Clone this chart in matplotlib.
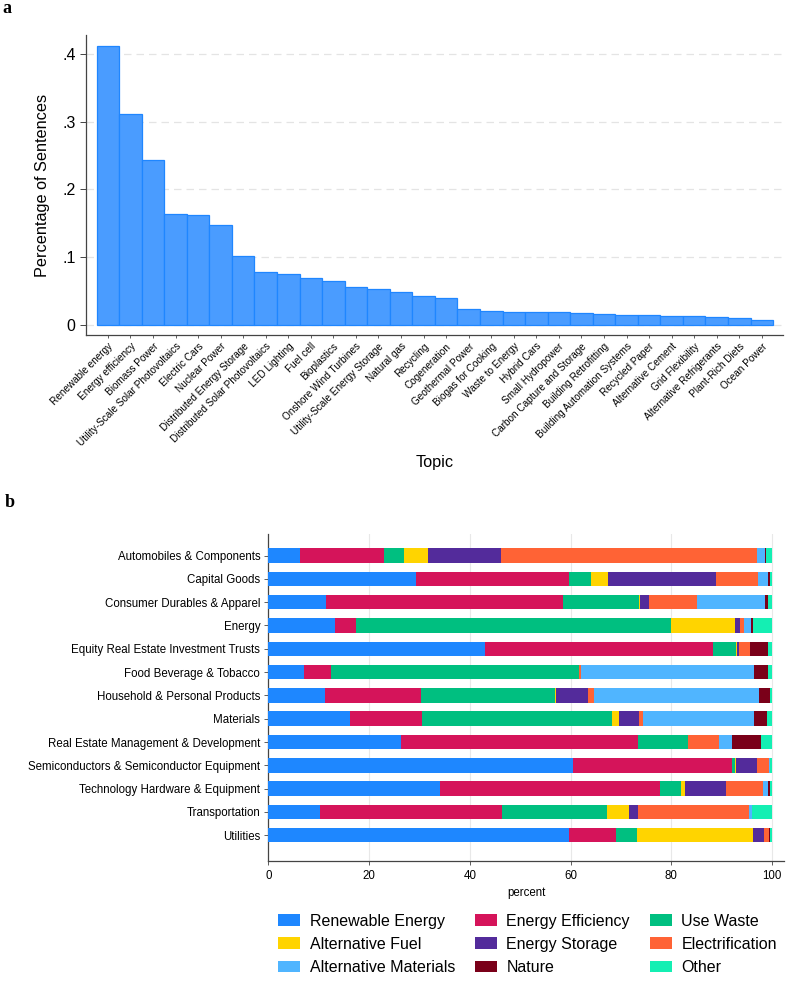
import matplotlib
matplotlib.use('Agg')
import matplotlib.pyplot as plt
from matplotlib.patches import Patch

plt.rcParams['font.family'] = ['Liberation Sans', 'DejaVu Sans']

# ---------------- Panel a data ----------------
topics = ["Renewable energy", "Energy efficiency", "Biomass Power",
          "Utility-Scale Solar Photovoltaics", "Electric Cars", "Nuclear Power",
          "Distributed Energy Storage", "Distributed Solar Photovoltaics",
          "LED Lighting", "Fuel cell", "Bioplastics", "Onshore Wind Turbines",
          "Utility-Scale Energy Storage", "Natural gas", "Recycling",
          "Cogeneration", "Geothermal Power", "Biogas for Cooking",
          "Waste to Energy", "Hybrid Cars", "Small Hydropower",
          "Carbon Capture and Storage", "Building Retrofitting",
          "Building Automation Systems", "Recycled Paper", "Alternative Cement",
          "Grid Flexibility", "Alternative Refrigerants", "Plant-Rich Diets",
          "Ocean Power"]
shares = [0.412, 0.311, 0.2435, 0.164, 0.162, 0.148, 0.102, 0.0778, 0.0757,
          0.0698, 0.065, 0.0566, 0.0527, 0.049, 0.0424, 0.0394, 0.0232, 0.0207,
          0.0192, 0.0187, 0.0187, 0.0177, 0.0162, 0.0152, 0.0148, 0.0137,
          0.0137, 0.0113, 0.0099, 0.0069]
ytick_vals = [0, 0.1, 0.2, 0.3, 0.4]
ytick_labels = ["0", ".1", ".2", ".3", ".4"]

# ---------------- Panel b data ----------------
sectors = ["Automobiles & Components", "Capital Goods",
           "Consumer Durables & Apparel", "Energy",
           "Equity Real Estate Investment Trusts", "Food Beverage & Tobacco",
           "Household & Personal Products", "Materials",
           "Real Estate Management & Development",
           "Semiconductors & Semiconductor Equipment",
           "Technology Hardware & Equipment", "Transportation", "Utilities"]
categories = ["Renewable Energy", "Energy Efficiency", "Use Waste",
              "Alternative Fuel", "Energy Storage", "Electrification",
              "Alternative Materials", "Nature", "Other"]
renewable_energy = [6.3, 29.3, 11.4, 13.2, 43.0, 7.0, 11.2, 16.2, 26.3, 60.5, 34.1, 10.2, 59.7]
energy_efficiency = [16.6, 30.4, 47.1, 4.2, 45.3, 5.5, 19.0, 14.2, 47.1, 31.5, 43.6, 36.1, 9.3]
use_waste = [4.0, 4.4, 15.1, 62.5, 4.5, 49.1, 26.8, 37.9, 10.0, 0.6, 4.3, 20.9, 4.2]
alternative_fuel = [4.8, 3.4, 0.1, 12.7, 0.2, 0.0, 0.1, 1.4, 0.0, 0.3, 0.7, 4.5, 23.0]
energy_storage = [14.5, 21.3, 1.9, 1.0, 0.4, 0.1, 6.4, 3.9, 0.0, 4.1, 8.2, 1.7, 2.3]
electrification = [50.9, 8.5, 9.6, 0.8, 2.2, 0.3, 1.2, 0.8, 6.0, 2.5, 7.3, 22.0, 0.9]
alternative_materials = [1.5, 2.0, 13.5, 1.4, 0.1, 34.5, 32.8, 22.0, 2.7, 0.1, 1.1, 0.6, 0.0]
nature = [0.2, 0.4, 0.6, 0.5, 3.6, 2.7, 2.2, 2.7, 5.8, 0.0, 0.4, 0.0, 0.2]
other = [1.2, 0.4, 0.7, 3.7, 0.7, 0.8, 0.3, 0.9, 2.1, 0.4, 0.3, 4.0, 0.4]
xtick_vals_b = [0, 20, 40, 60, 80, 100]

series = [renewable_energy, energy_efficiency, use_waste, alternative_fuel,
          energy_storage, electrification, alternative_materials, nature, other]
colors = ["#1e87ff", "#d5145a", "#00bf80", "#ffd400", "#532b9b",
          "#ff6335", "#50b5ff", "#7a0019", "#14efb3"]

SPINE = "#444444"

fig = plt.figure(figsize=(8, 9.89), dpi=100)

# ---------------- Panel a ----------------
axa = fig.add_axes([0.1075, 0.6613, 0.871, 0.3033])
x = list(range(len(topics)))
axa.bar(x, shares, width=1.0, color="#4a9cff", edgecolor="#1f86ff",
        linewidth=0.9, zorder=3)
axa.set_xlim(-0.97, len(topics) - 0.07)
axa.set_ylim(-0.0148, 0.428)
axa.set_yticks(ytick_vals)
axa.set_yticklabels(ytick_labels, fontsize=11.5)
axa.set_xticks(x)
axa.set_xticklabels(topics, rotation=45, ha="right", rotation_mode="anchor",
                    fontsize=7.2)
axa.tick_params(axis="x", length=2.5, width=0.6, color=SPINE, pad=2)
axa.tick_params(axis="y", length=4.5, width=0.7, color=SPINE, pad=3)
for yv in ytick_vals:
    axa.axhline(yv, color="#e4e4e4", lw=0.9, ls=(0, (6, 4)), zorder=0)
for s in ["top", "right"]:
    axa.spines[s].set_visible(False)
for s in ["left", "bottom"]:
    axa.spines[s].set_color(SPINE)
    axa.spines[s].set_linewidth(0.9)
axa.set_ylabel("Percentage of Sentences", fontsize=11.7)
axa.yaxis.set_label_coords(-0.052, 0.5)
axa.set_xlabel("Topic", fontsize=11.7)
axa.xaxis.set_label_coords(0.5, -0.40)

fig.text(0.003, 0.987, "a", fontsize=13, fontweight="bold",
         family="Liberation Serif", va="baseline", ha="left")

# ---------------- Panel b ----------------
axb = fig.add_axes([0.3356, 0.1291, 0.6444, 0.3306])
ypos = list(range(len(sectors)))
left = [0.0] * len(sectors)
handles = []
for name, vals, col in zip(categories, series, colors):
    axb.barh(ypos, vals, left=left, height=0.62, color=col, linewidth=0,
             zorder=3)
    left = [l + v for l, v in zip(left, vals)]
    handles.append(Patch(facecolor=col, edgecolor="none", label=name))
axb.set_ylim(len(sectors) - 1 + 1.12, -0.91)
axb.set_xlim(0, 102.4)
axb.set_yticks(ypos)
axb.set_yticklabels(sectors, fontsize=8.3)
axb.set_xticks(xtick_vals_b)
axb.set_xticklabels([str(v) for v in xtick_vals_b], fontsize=8.3)
axb.tick_params(axis="both", length=3, width=0.6, color=SPINE, pad=3)
for xv in xtick_vals_b[1:]:
    axb.axvline(xv, color="#e8e8e8", lw=0.8, zorder=0)
for s in ["top", "right"]:
    axb.spines[s].set_visible(False)
for s in ["left", "bottom"]:
    axb.spines[s].set_color(SPINE)
    axb.spines[s].set_linewidth(0.9)
axb.set_xlabel("percent", fontsize=8.3, labelpad=4)

fig.text(0.006, 0.4874, "b", fontsize=13, fontweight="bold",
         family="Liberation Serif", va="baseline", ha="left")

order = [0, 3, 6, 1, 4, 7, 2, 5, 8]
leg = fig.legend([handles[i] for i in order], [categories[i] for i in order],
                 ncol=3, loc="upper left", bbox_to_anchor=(0.3475, 0.0763),
                 frameon=False, fontsize=11.5, handlelength=1.375,
                 handleheight=0.75, handletextpad=0.6, columnspacing=1.25,
                 labelspacing=0.52, borderaxespad=0, borderpad=0)

fig.savefig("out.png", dpi=100)
